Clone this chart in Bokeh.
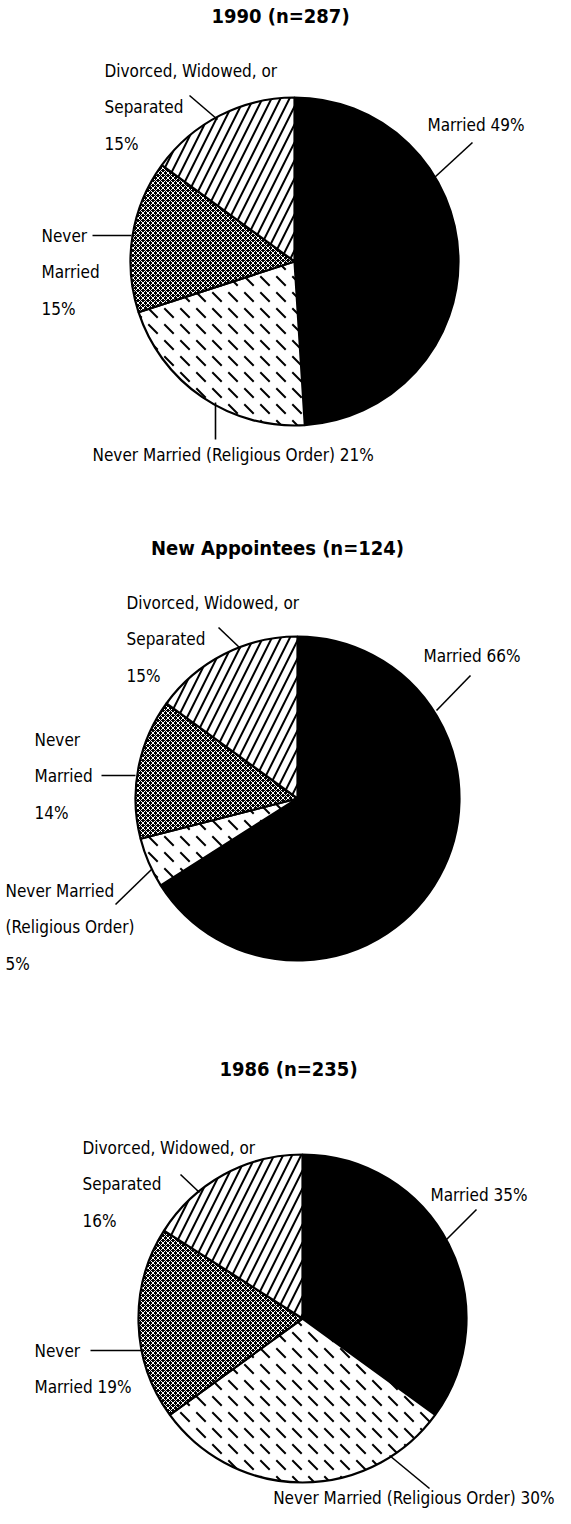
import math
from bokeh.plotting import figure
from bokeh.models import Range1d, ColumnDataSource
from bokeh.embed import file_html
from bokeh.resources import INLINE
from bokeh.core.properties import value

# ---------------- data ----------------
titles = ["1990 (n=287)", "New Appointees (n=124)", "1986 (n=235)"]
segments = ["Married", "Never Married (Religious Order)", "Never Married",
            "Divorced, Widowed, or Separated"]
married = [49, 66, 35]
religious = [21, 5, 30]
never_married = [15, 14, 19]
divorced = [15, 15, 16]

# label text templates (line breaks as in the original), per pie
label_lines = [
    [["Married {v}%"], ["Never Married (Religious Order) {v}%"],
     ["Never", "Married", "{v}%"], ["Divorced, Widowed, or", "Separated", "{v}%"]],
    [["Married {v}%"], ["Never Married", "(Religious Order)", "{v}%"],
     ["Never", "Married", "{v}%"], ["Divorced, Widowed, or", "Separated", "{v}%"]],
    [["Married {v}%"], ["Never Married (Religious Order) {v}%"],
     ["Never", "Married {v}%"], ["Divorced, Widowed, or", "Separated", "{v}%"]],
]

# ---------------- layout (page pixels) ----------------
W, H = 555, 1508
M = 8
FONT = "DejaVu Sans Condensed, Roboto, sans-serif"
pie_center = [(302, 269), (305, 806), (310, 1326)]
pie_r = [164, 162, 164]
title_xy = [(288, 23), (285, 555), (296, 1076)]
LINE = 36.5
# first-line anchor (x, center y, align) for each segment label: Married, Religious, Never, Divorced
label_xy = [
    [(435, 132, "left"), (100, 462, "left"), (49, 243, "left"), (112, 78, "left")],
    [(431, 663, "left"), (13, 898, "left"), (42, 747, "left"), (134, 610, "left")],
    [(438, 1202, "left"), (562, 1505, "right"), (42, 1358, "left"), (90, 1155, "left")],
]
leaders = [
    [((480, 150), (442, 185)), ((223, 410), (223, 447)), ((100, 243), (139, 243)), ((197, 103), (225, 127))],
    [((478, 683), (444, 718)), ((123, 912), (159, 877)), ((109, 783), (143, 783)), ((226, 635), (248, 656))],
    [((484, 1217), (453, 1248)), ((397, 1463), (437, 1496)), ((98, 1358), (149, 1358)), ((188, 1182), (207, 1200))],
]


def X(px):
    return px - M


def Y(py):
    return H - (py - M)


p = figure(width=W, height=H, x_range=Range1d(0, W), y_range=Range1d(0, H),
           output_backend="svg", toolbar_location=None,
           x_axis_location=None, y_axis_location=None, min_border=0)
p.grid.visible = False
p.outline_line_color = None

series = [married, religious, never_married, divorced]


def wedge_source(k):
    xs, ys, rs, st, en = [], [], [], [], []
    for i in range(3):
        vals = [s[i] for s in series]
        total = float(sum(vals))
        c0 = sum(vals[:k]) / total
        c1 = sum(vals[:k + 1]) / total
        cx, cy = pie_center[i]
        xs.append(X(cx))
        ys.append(Y(cy))
        rs.append(pie_r[i])
        st.append(math.pi / 2 - c1 * 2 * math.pi)
        en.append(math.pi / 2 - c0 * 2 * math.pi)
    return ColumnDataSource(dict(x=xs, y=ys, r=rs, start=st, end=en))


common = dict(x="x", y="y", radius="r", start_angle="start", end_angle="end",
              line_color="black", line_width=2.2)
# Married: solid black
p.wedge(source=wedge_source(0), fill_color="black", **common)
# Religious order: white with short dashes
p.wedge(source=wedge_source(1), fill_color="white", hatch_pattern="`",
        hatch_color="black", hatch_scale=16, hatch_weight=2, **common)
# Never married: halftone grey
p.wedge(source=wedge_source(2), fill_color="black", hatch_pattern="x",
        hatch_color="white", hatch_scale=5, hatch_weight=1, **common)
# Divorced: diagonal lines
p.wedge(source=wedge_source(3), fill_color="white", hatch_pattern="/",
        hatch_color="black", hatch_scale=18, hatch_weight=2, **common)

# titles
p.text(x=[X(t[0]) for t in title_xy], y=[Y(t[1]) for t in title_xy], text=titles,
       text_font=value(FONT), text_font_style="bold",
       text_font_size="20px", text_align="center", text_baseline="middle",
       text_color="black")

# labels
lab = dict(x=[], y=[], t=[], a=[])
for i in range(3):
    for k in range(4):
        v = series[k][i]
        x0, y0, al = label_xy[i][k]
        for j, line in enumerate(label_lines[i][k]):
            lab["x"].append(X(x0))
            lab["y"].append(Y(y0 + j * LINE))
            lab["t"].append(line.format(v=v))
            lab["a"].append(al)
p.text(x="x", y="y", text="t", text_align="a", source=ColumnDataSource(lab),
       text_font=value(FONT), text_font_size="17px", text_baseline="middle",
       text_color="black")

# leader lines
sx, sy = [], []
for i in range(3):
    for (a, b) in leaders[i]:
        sx.append([X(a[0]), X(b[0])])
        sy.append([Y(a[1]), Y(b[1])])
p.multi_line(xs=sx, ys=sy, line_color="black", line_width=1.6)

open("out.html", "w").write(file_html(p, INLINE))
